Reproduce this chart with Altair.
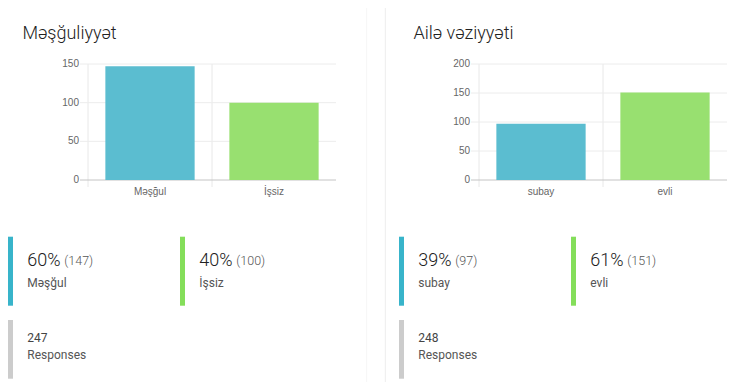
import altair as alt
import pandas as pd

# ---- data ----
emp_title = "Məşğuliyyət"
emp_cats = ["Məşğul", "İşsiz"]
emp_vals = [147, 100]
emp_pcts = ["60%", "40%"]
emp_ticks = [0, 50, 100, 150]
emp_max = 150
emp_total = 247

mar_title = "Ailə vəziyyəti"
mar_cats = ["subay", "evli"]
mar_vals = [97, 151]
mar_pcts = ["39%", "61%"]
mar_ticks = [0, 50, 100, 150, 200]
mar_max = 200
mar_total = 248

bar_colors = ["#5bbdd0", "#98e070"]
accent_colors = ["#38b4ca", "#84de5a"]

FONT = "Roboto"
AXFONT = "Liberation Sans"

PLOT_TOP = 56
PLOT_BOT = 172


def panel(ox, title, cats, vals, pcts, ticks, ymax, total):
    ax = ox + 80
    pw = 248
    df = pd.DataFrame({
        "cat": cats,
        "val": vals,
        "pct": pcts,
        "cnt": ["(%d)" % v for v in vals],
    })
    tdf = pd.DataFrame({"tick": ticks})
    one = pd.DataFrame({"title": [title], "total": [str(total)]})

    yscale = alt.Scale(domain=[0, ymax], range=[PLOT_BOT, PLOT_TOP], nice=False, zero=True)
    band = alt.Scale(domain=cats, range=[ax, ax + pw], paddingInner=0.28, paddingOuter=0.14)
    band0 = alt.Scale(domain=cats, range=[ax, ax + pw], paddingInner=0, paddingOuter=0)
    pts = alt.Scale(domain=cats, range=[ox + 2.5, ox + 174.5], type="point", padding=0)

    layers = []
    # vertical grid lines at category boundaries
    layers.append(
        alt.Chart(df).mark_rule(color="#e8e8e8", strokeWidth=1).encode(
            x=alt.X("cat:N", scale=band0, axis=None, bandPosition=0),
            y=alt.value(PLOT_TOP),
            y2=alt.value(179),
        )
    )
    # horizontal grid lines
    layers.append(
        alt.Chart(tdf).mark_rule(strokeWidth=1).encode(
            y=alt.Y("tick:Q", scale=yscale, axis=None),
            x=alt.value(ax - 8),
            x2=alt.value(ax + pw),
            color=alt.condition(alt.datum.tick == 0, alt.value("#c4c4c4"), alt.value("#ececec")),
        )
    )
    # bars
    layers.append(
        alt.Chart(df).mark_bar().encode(
            x=alt.X("cat:N", scale=band, axis=None),
            y=alt.Y("val:Q", scale=yscale, axis=None),
            color=alt.Color("cat:N", scale=alt.Scale(domain=cats, range=bar_colors), legend=None),
        )
    )
    # y tick labels
    layers.append(
        alt.Chart(tdf).mark_text(align="right", baseline="middle", fontSize=10,
                                 font=AXFONT, color="#666666").encode(
            y=alt.Y("tick:Q", scale=yscale, axis=None),
            x=alt.value(ax - 9),
            text="tick:Q",
        )
    )
    # x labels
    layers.append(
        alt.Chart(df).mark_text(align="center", baseline="middle", fontSize=10,
                                font=AXFONT, color="#666666").encode(
            x=alt.X("cat:N", scale=band, axis=None),
            y=alt.value(184),
            text="cat:N",
        )
    )
    # title
    layers.append(
        alt.Chart(one).mark_text(align="left", baseline="alphabetic", fontSize=18, fontWeight=300,
                                 font=FONT, color="#222222").encode(
            x=alt.value(ox + 14.5),
            y=alt.value(31.3),
            text="title:N",
        )
    )
    # stat accent bars
    layers.append(
        alt.Chart(df).mark_rule(strokeWidth=5).encode(
            x=alt.X("cat:N", scale=pts, axis=None),
            y=alt.value(228.7),
            y2=alt.value(297.7),
            color=alt.Color("cat:N", scale=alt.Scale(domain=cats, range=accent_colors), legend=None),
        )
    )
    # percent
    layers.append(
        alt.Chart(df).mark_text(align="left", baseline="alphabetic", fontSize=18, fontWeight=300,
                                font=FONT, color="#212121", dx=16.8).encode(
            x=alt.X("cat:N", scale=pts, axis=None),
            y=alt.value(257.7),
            text="pct:N",
        )
    )
    # count
    layers.append(
        alt.Chart(df).mark_text(align="left", baseline="alphabetic", fontSize=12.5, fontWeight=300,
                                font=FONT, color="#555555", dx=16.8 + 37).encode(
            x=alt.X("cat:N", scale=pts, axis=None),
            y=alt.value(256.5),
            text="cnt:N",
        )
    )
    # category label
    layers.append(
        alt.Chart(df).mark_text(align="left", baseline="alphabetic", fontSize=12,
                                font=FONT, color="#555555", dx=16.8).encode(
            x=alt.X("cat:N", scale=pts, axis=None),
            y=alt.value(278.7),
            text="cat:N",
        )
    )
    # responses block
    layers.append(
        alt.Chart(one).mark_rule(strokeWidth=5, color="#cccccc").encode(
            x=alt.value(ox + 2.5),
            y=alt.value(312),
            y2=alt.value(370.7),
        )
    )
    layers.append(
        alt.Chart(one).mark_text(align="left", baseline="alphabetic", fontSize=12,
                                 font=FONT, color="#444444").encode(
            x=alt.value(ox + 19.3),
            y=alt.value(333.5),
            text="total:N",
        )
    )
    layers.append(
        alt.Chart(one).mark_text(align="left", baseline="alphabetic", fontSize=12,
                                 font=FONT, color="#555555", text="Responses").encode(
            x=alt.value(ox + 19.3),
            y=alt.value(351.3),
        )
    )
    return layers


sep = pd.DataFrame({"x": [0]})
seps = [
    alt.Chart(sep).mark_rule(color="#f6f6f6").encode(
        x=alt.value(358.7), y=alt.value(0), y2=alt.value(374)),
    alt.Chart(sep).mark_rule(color="#ededed").encode(
        x=alt.value(377.3), y=alt.value(0), y2=alt.value(374)),
]

layers = seps + panel(0, emp_title, emp_cats, emp_vals, emp_pcts, emp_ticks, emp_max, emp_total) \
    + panel(391, mar_title, mar_cats, mar_vals, mar_pcts, mar_ticks, mar_max, mar_total)

chart = alt.layer(*layers).resolve_scale(
    x="independent", y="independent", color="independent"
).properties(
    width=732, height=374, padding=0,
    autosize=alt.AutoSizeParams(type="none"),
    background="white",
).configure_view(stroke=None)

chart.save("out.html", embed_options={"renderer": "svg", "actions": False})
